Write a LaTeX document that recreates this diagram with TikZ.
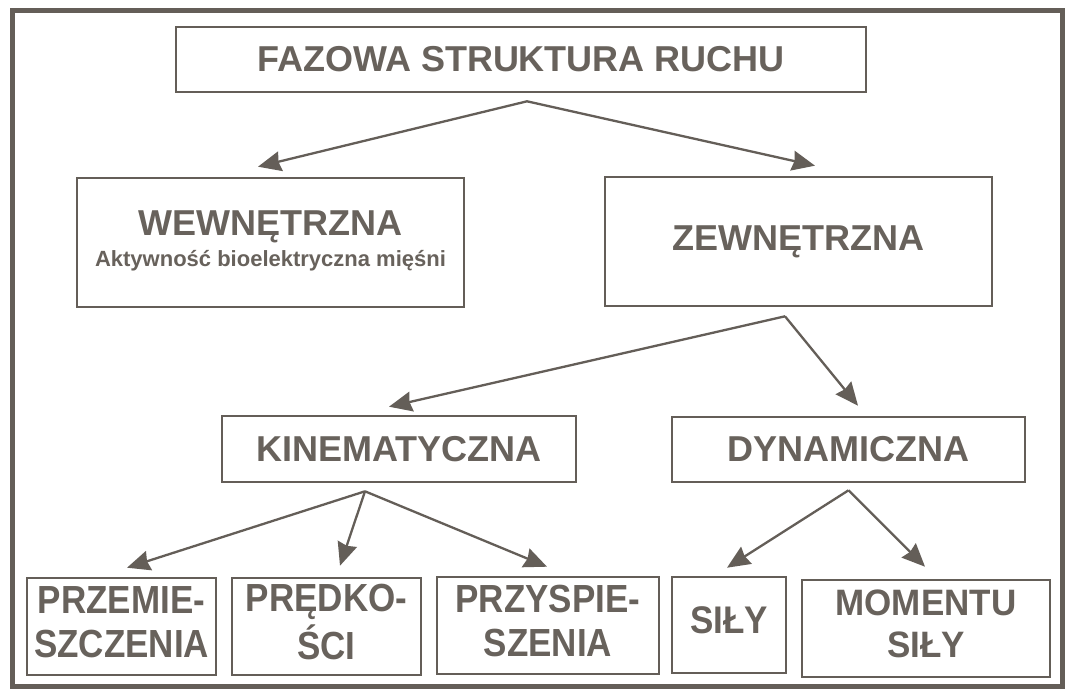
\documentclass[tikz,border=0pt]{standalone}
\usepackage{fontspec}
\usepackage{graphicx}
\setmainfont{Liberation Sans}
\usetikzlibrary{arrows.meta}
\definecolor{inkline}{RGB}{100,94,88}
\definecolor{inktext}{RGB}{104,98,92}
% several lines of box text, stretched vertically by #1
\newcommand{\tallstack}[2]{\scalebox{1}[#1]{\begin{tabular}{@{}c@{}}#2\end{tabular}}}
\begin{document}
\begin{tikzpicture}[x=1pt,y=1pt,
  box/.style={draw=inkline, line width=2.6pt, inner sep=0pt, text=inktext,
    font=\bfseries\fontsize{36}{40}\selectfont, align=center},
  lowbox/.style={box, font=\bfseries\fontsize{35}{40}\selectfont},
  frameline/.style={draw=inkline, line width=5pt},
  arr/.style={draw=inkline, line width=2.3pt,
    -{Stealth[length=23pt, width=20pt, inset=2pt, fill=inkline]}}]
\useasboundingbox (0,0) rectangle (1065,-691);
\fill[white] (0,0) rectangle (1065,-691);
% outer frame
\draw[frameline] (12,-10) rectangle (1062,-686);

% boxes
\node[box, minimum width=690, minimum height=65] (title) at (521,-59.5)
  {FAZOWA STRUKTURA RUCHU};
\node[box, minimum width=387, minimum height=129] (wew) at (270.5,-242.5)
  {\begin{tabular}{@{}c@{}}\fontsize{36}{30}\selectfont WEWNĘTRZNA\\[-9pt]
   \fontsize{22}{24}\selectfont Aktywność bioelektryczna mięśni\end{tabular}};
\node[box, minimum width=387, minimum height=129] (zew) at (798.5,-241.5)
  {ZEWNĘTRZNA};
\node[box, minimum width=354, minimum height=66] (kin) at (399,-449)
  {KINEMATYCZNA};
\node[box, minimum width=353, minimum height=65] (dyn) at (848.5,-449.5)
  {DYNAMICZNA};
\node[lowbox, minimum width=189, minimum height=97] (prz) at (121.5,-626.5)
  {\tallstack{1.12}{PRZEMIE-\\SZCZENIA}};
\node[lowbox, minimum width=189, minimum height=97] (pre) at (326.5,-626.5)
  {\tallstack{1.12}{PRĘDKO-\\ŚCI}};
\node[lowbox, minimum width=222, minimum height=97] (przy) at (548,-625.5)
  {\tallstack{1.12}{PRZYSPIE-\\SZENIA}};
\node[lowbox, minimum width=114, minimum height=96] (sil) at (729,-625)
  {\tallstack{1.1}{SIŁY}};
\node[lowbox, minimum width=248, minimum height=97] (mom) at (926,-628.5)
  {\tallstack{1.05}{\fontsize{35}{37}\selectfont MOMENTU\\SIŁY}};

% branching points below the parent boxes
\coordinate (f1) at ([xshift=6pt, yshift=-8pt]title.south);
\coordinate (f2) at ([xshift=-13.5pt, yshift=-9pt]zew.south);
\coordinate (f3) at ([xshift=-34pt, yshift=-8pt]kin.south);
\coordinate (f4) at ([xshift=0pt, yshift=-7pt]dyn.south);

% connectors
\draw[arr] (f1) -- ([xshift=-12.5pt, yshift=10pt]wew.north);
\draw[arr] (f1) -- ([xshift=16.5pt, yshift=10pt]zew.north);
\draw[arr] (f2) -- ([xshift=-10pt, yshift=8pt]kin.north);
\draw[arr] (f2) -- ([xshift=9.5pt, yshift=10pt]dyn.north);
\draw[arr] (f3) -- ([xshift=5.5pt, yshift=9pt]prz.north);
\draw[arr] (f3) -- ([xshift=13.5pt, yshift=11pt]pre.north);
\draw[arr] (f3) -- ([xshift=-1pt, yshift=9pt]przy.north);
\draw[arr] (f4) -- ([xshift=-2pt, yshift=8pt]sil.north);
\draw[arr] (f4) -- ([xshift=-1pt, yshift=12pt]mom.north);
\end{tikzpicture}
\end{document}
